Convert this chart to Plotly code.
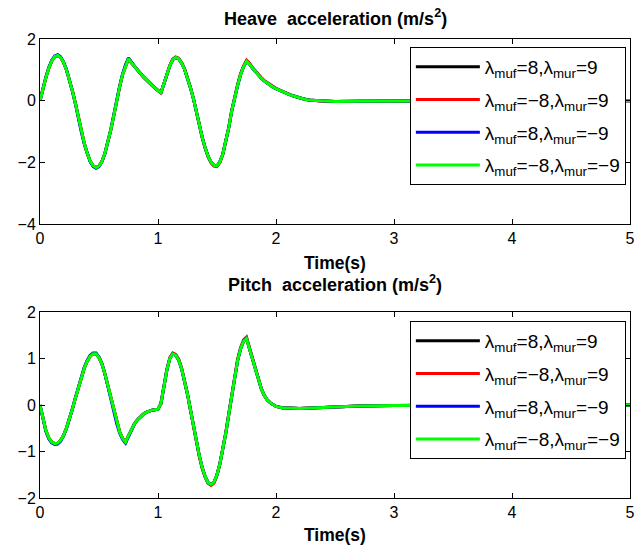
import plotly.graph_objects as go

time_s = [0, 0.025, 0.05, 0.075, 0.1, 0.125, 0.15, 0.175, 0.2, 0.225, 0.25, 0.275, 0.3, 0.325, 0.35, 0.375,
          0.4, 0.425, 0.45, 0.475, 0.5, 0.525, 0.55, 0.575, 0.6, 0.625, 0.65, 0.675, 0.7, 0.725, 0.75, 0.775,
          0.8, 0.825, 0.85, 0.875, 0.9, 0.925, 0.95, 0.975, 1.0, 1.025, 1.05, 1.075, 1.1, 1.125, 1.15, 1.175,
          1.2, 1.225, 1.25, 1.275, 1.3, 1.325, 1.35, 1.375, 1.4, 1.425, 1.45, 1.475, 1.5, 1.525, 1.55, 1.575,
          1.6, 1.625, 1.65, 1.675, 1.7, 1.725, 1.75, 1.775, 1.8, 1.825, 1.85, 1.875, 1.9, 1.925, 1.95, 1.975,
          2.0, 2.05, 2.1, 2.15, 2.2, 2.25, 2.3, 2.4, 2.5, 2.7, 3.0, 3.5, 4.0, 4.5, 5.0]

heave_black = [0, 0.39, 0.75, 1.06, 1.29, 1.43, 1.47, 1.40, 1.24, 0.99, 0.67, 0.31, -0.09, -0.56, -0.99, -1.38,
               -1.71, -1.96, -2.11, -2.17, -2.12, -1.97, -1.71, -1.37, -0.95, -0.49, 0.0, 0.45, 0.85, 1.15, 1.37, 1.23,
               1.11, 1.00, 0.88, 0.78, 0.68, 0.58, 0.50, 0.41, 0.33, 0.26, 0.55, 0.85, 1.13, 1.33, 1.40, 1.36,
               1.22, 1.02, 0.74, 0.42, 0.07, -0.36, -0.79, -1.19, -1.53, -1.81, -2.00, -2.10, -2.12, -1.98, -1.72, -1.33,
               -0.87, -0.33, 0.12, 0.50, 0.85, 1.10, 1.28, 1.19, 1.06, 0.94, 0.83, 0.73, 0.64, 0.57, 0.50, 0.44,
               0.39, 0.30, 0.22, 0.15, 0.09, 0.04, 0.01, -0.02, -0.03, -0.02, -0.01, 0.0, 0.0, 0.0, 0.0]
heave_red = [0, 0.39, 0.75, 1.06, 1.29, 1.43, 1.47, 1.40, 1.24, 0.99, 0.67, 0.31, -0.09, -0.56, -0.99, -1.38,
             -1.71, -1.96, -2.11, -2.17, -2.12, -1.97, -1.71, -1.37, -0.95, -0.49, 0.0, 0.45, 0.85, 1.15, 1.37, 1.23,
             1.11, 1.00, 0.88, 0.78, 0.68, 0.58, 0.50, 0.41, 0.33, 0.25, 0.54, 0.85, 1.14, 1.35, 1.42, 1.38,
             1.24, 1.04, 0.76, 0.43, 0.07, -0.37, -0.81, -1.21, -1.55, -1.83, -2.02, -2.12, -2.14, -2.00, -1.73, -1.33,
             -0.86, -0.31, 0.14, 0.53, 0.88, 1.13, 1.31, 1.22, 1.08, 0.96, 0.85, 0.75, 0.65, 0.58, 0.51, 0.45,
             0.40, 0.31, 0.22, 0.15, 0.09, 0.04, 0.01, -0.02, -0.03, -0.02, -0.01, 0.0, 0.0, 0.0, 0.0]
heave_blue = [0, 0.40, 0.77, 1.08, 1.31, 1.45, 1.49, 1.42, 1.25, 1.00, 0.67, 0.30, -0.10, -0.58, -1.01, -1.40,
              -1.73, -1.98, -2.13, -2.19, -2.14, -1.98, -1.72, -1.37, -0.94, -0.47, 0.02, 0.47, 0.87, 1.17, 1.39, 1.24,
              1.12, 1.00, 0.88, 0.78, 0.68, 0.58, 0.50, 0.41, 0.33, 0.26, 0.55, 0.85, 1.13, 1.33, 1.40, 1.36,
              1.22, 1.02, 0.74, 0.42, 0.07, -0.36, -0.79, -1.19, -1.53, -1.81, -2.00, -2.10, -2.12, -1.98, -1.72, -1.33,
              -0.87, -0.33, 0.12, 0.50, 0.85, 1.10, 1.28, 1.19, 1.06, 0.94, 0.83, 0.73, 0.64, 0.57, 0.50, 0.44,
              0.39, 0.30, 0.22, 0.15, 0.09, 0.04, 0.01, -0.02, -0.03, -0.02, -0.01, 0.0, 0.0, 0.0, 0.0]
heave_green = [0, 0.39, 0.75, 1.06, 1.29, 1.43, 1.47, 1.40, 1.24, 0.99, 0.67, 0.31, -0.09, -0.56, -0.99, -1.38,
               -1.71, -1.96, -2.11, -2.17, -2.12, -1.97, -1.71, -1.37, -0.95, -0.49, 0.0, 0.45, 0.85, 1.15, 1.37, 1.23,
               1.11, 1.00, 0.88, 0.78, 0.68, 0.58, 0.50, 0.41, 0.33, 0.26, 0.55, 0.85, 1.13, 1.33, 1.40, 1.36,
               1.22, 1.02, 0.74, 0.42, 0.07, -0.36, -0.79, -1.19, -1.53, -1.81, -2.00, -2.10, -2.12, -1.98, -1.72, -1.33,
               -0.87, -0.33, 0.12, 0.50, 0.85, 1.10, 1.28, 1.19, 1.06, 0.94, 0.83, 0.73, 0.64, 0.57, 0.50, 0.44,
               0.39, 0.30, 0.22, 0.15, 0.09, 0.04, 0.01, -0.02, -0.03, -0.02, -0.01, 0.0, 0.0, 0.0, 0.0]

pitch_black = [0, -0.30, -0.55, -0.71, -0.80, -0.83, -0.82, -0.76, -0.65, -0.49, -0.30, -0.08, 0.15, 0.38, 0.59, 0.79,
               0.94, 1.05, 1.10, 1.10, 1.02, 0.88, 0.67, 0.42, 0.14, -0.13, -0.38, -0.58, -0.72, -0.80, -0.66, -0.53,
               -0.41, -0.32, -0.25, -0.20, -0.16, -0.13, -0.11, -0.10, -0.09, 0.03, 0.40, 0.75, 1.00, 1.10, 1.07, 0.97,
               0.78, 0.53, 0.23, -0.10, -0.44, -0.78, -1.09, -1.35, -1.54, -1.67, -1.71, -1.66, -1.50, -1.26, -0.95, -0.60,
               -0.20, 0.22, 0.62, 0.96, 1.21, 1.37, 1.43, 1.22, 0.98, 0.78, 0.55, 0.35, 0.21, 0.11, 0.05, 0.0,
               -0.03, -0.06, -0.07, -0.075, -0.075, -0.07, -0.065, -0.05, -0.04, -0.02, -0.01, 0.0, 0.0, 0.0, 0.0]
pitch_red = [0, -0.30, -0.55, -0.71, -0.80, -0.83, -0.82, -0.76, -0.65, -0.49, -0.30, -0.08, 0.15, 0.38, 0.59, 0.79,
             0.94, 1.05, 1.10, 1.10, 1.02, 0.88, 0.67, 0.42, 0.14, -0.13, -0.38, -0.58, -0.72, -0.80, -0.66, -0.53,
             -0.41, -0.32, -0.25, -0.20, -0.16, -0.13, -0.11, -0.10, -0.09, 0.03, 0.41, 0.77, 1.02, 1.12, 1.09, 0.99,
             0.80, 0.54, 0.23, -0.11, -0.46, -0.80, -1.11, -1.37, -1.56, -1.69, -1.73, -1.68, -1.51, -1.26, -0.94, -0.58,
             -0.18, 0.24, 0.65, 0.99, 1.24, 1.40, 1.46, 1.24, 0.99, 0.79, 0.56, 0.36, 0.21, 0.11, 0.05, 0.0,
             -0.03, -0.06, -0.07, -0.075, -0.075, -0.07, -0.065, -0.05, -0.04, -0.02, -0.01, 0.0, 0.0, 0.0, 0.0]
pitch_blue = [0, -0.31, -0.57, -0.73, -0.82, -0.85, -0.84, -0.78, -0.66, -0.50, -0.30, -0.08, 0.16, 0.39, 0.61, 0.81,
              0.96, 1.07, 1.12, 1.12, 1.03, 0.89, 0.67, 0.41, 0.13, -0.15, -0.40, -0.60, -0.74, -0.82, -0.67, -0.53,
              -0.41, -0.32, -0.25, -0.20, -0.16, -0.13, -0.11, -0.10, -0.09, 0.03, 0.40, 0.75, 1.00, 1.10, 1.07, 0.97,
              0.78, 0.53, 0.23, -0.10, -0.44, -0.78, -1.09, -1.35, -1.54, -1.67, -1.71, -1.66, -1.50, -1.26, -0.95, -0.60,
              -0.20, 0.22, 0.62, 0.96, 1.21, 1.37, 1.43, 1.22, 0.98, 0.78, 0.55, 0.35, 0.21, 0.11, 0.05, 0.0,
              -0.03, -0.06, -0.07, -0.075, -0.075, -0.07, -0.065, -0.05, -0.04, -0.02, -0.01, 0.0, 0.0, 0.0, 0.0]
pitch_green = [0, -0.30, -0.55, -0.71, -0.80, -0.83, -0.82, -0.76, -0.65, -0.49, -0.30, -0.08, 0.15, 0.38, 0.59, 0.79,
               0.94, 1.05, 1.10, 1.10, 1.02, 0.88, 0.67, 0.42, 0.14, -0.13, -0.38, -0.58, -0.72, -0.80, -0.66, -0.53,
               -0.41, -0.32, -0.25, -0.20, -0.16, -0.13, -0.11, -0.10, -0.09, 0.03, 0.40, 0.75, 1.00, 1.10, 1.07, 0.97,
               0.78, 0.53, 0.23, -0.10, -0.44, -0.78, -1.09, -1.35, -1.54, -1.67, -1.71, -1.66, -1.50, -1.26, -0.95, -0.60,
               -0.20, 0.22, 0.62, 0.96, 1.21, 1.37, 1.43, 1.22, 0.98, 0.78, 0.55, 0.35, 0.21, 0.11, 0.05, 0.0,
               -0.03, -0.06, -0.07, -0.075, -0.075, -0.07, -0.065, -0.05, -0.04, -0.02, -0.01, 0.0, 0.0, 0.0, 0.0]

series_names = ["λ<sub>muf</sub>=8,λ<sub>mur</sub>=9",
                "λ<sub>muf</sub>=−8,λ<sub>mur</sub>=9",
                "λ<sub>muf</sub>=8,λ<sub>mur</sub>=−9",
                "λ<sub>muf</sub>=−8,λ<sub>mur</sub>=−9"]
series_colors = ["#000000", "#ff0000", "#0000ff", "#00ff00"]

heave_series = [heave_black, heave_red, heave_blue, heave_green]
pitch_series = [pitch_black, pitch_red, pitch_blue, pitch_green]

titles = ["Heave\u00a0 acceleration (m/s<sup>2</sup>)", "Pitch\u00a0 acceleration (m/s<sup>2</sup>)"]
xlabel = "Time(s)"

FONT = "Liberation Sans, Arial, Helvetica, sans-serif"

fig = go.Figure()
for i in range(4):
    fig.add_trace(go.Scatter(x=time_s, y=heave_series[i], mode="lines", name=series_names[i],
                             line=dict(color=series_colors[i], width=3), xaxis="x", yaxis="y",
                             legend="legend", legendgroup="a%d" % i))
for i in range(4):
    fig.add_trace(go.Scatter(x=time_s, y=pitch_series[i], mode="lines", name=series_names[i],
                             line=dict(color=series_colors[i], width=3), xaxis="x2", yaxis="y2",
                             legend="legend2", legendgroup="b%d" % i))

H_PLOT = 459.0
def py(ypx):
    return (498 - ypx) / H_PLOT

axis_common = dict(showline=True, linecolor="black", linewidth=1, mirror="ticks", ticks="inside",
                   ticklen=5, tickcolor="black", showgrid=False, zeroline=False,
                   tickfont=dict(family=FONT, size=16, color="black"))

legend_common = dict(xanchor="left", yanchor="top", bordercolor="black", borderwidth=1, bgcolor="white",
                     font=dict(family=FONT, size=19, color="black"), itemwidth=64,
                     tracegroupgap=5, traceorder="grouped")

fig.update_layout(
    width=640, height=551,
    margin=dict(l=40, r=5, t=39, b=53),
    paper_bgcolor="white", plot_bgcolor="white",
    font=dict(family=FONT, color="black"),
    xaxis=dict(domain=[0, 1], anchor="y", range=[0, 5], dtick=1, tick0=0, **axis_common),
    yaxis=dict(domain=[py(224), 1.0], anchor="x", range=[-4, 2], dtick=2, tick0=0, **axis_common),
    xaxis2=dict(domain=[0, 1], anchor="y2", range=[0, 5], dtick=1, tick0=0, **axis_common),
    yaxis2=dict(domain=[0, py(312)], anchor="x2", range=[-2, 2], dtick=1, tick0=0, **axis_common),
    legend=dict(x=(413 - 40) / 595.0, y=py(47), **legend_common),
    legend2=dict(x=(413 - 40) / 595.0, y=py(321), **legend_common),
    showlegend=True,
)

annotations = []
for txt, ypx in [(titles[0], 18), (titles[1], 283)]:
    annotations.append(dict(text="<b>" + txt + "</b>", x=0.5, y=py(ypx), xref="paper", yref="paper",
                            xanchor="center", yanchor="middle", showarrow=False,
                            font=dict(family=FONT, size=18, color="black")))
for ypx in [263, 535]:
    annotations.append(dict(text="<b>" + xlabel + "</b>", x=0.5, y=py(ypx), xref="paper", yref="paper",
                            xanchor="center", yanchor="middle", showarrow=False,
                            font=dict(family=FONT, size=17.5, color="black")))
fig.update_layout(annotations=annotations)

fig.write_html("out.html")
